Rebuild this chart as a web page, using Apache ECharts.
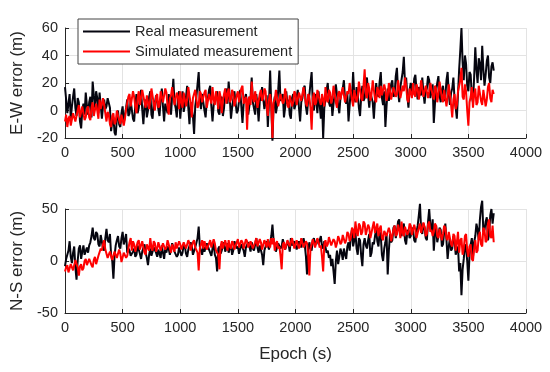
<!DOCTYPE html>
<html>
<head>
<meta charset="utf-8">
<script src="https://cdn.jsdelivr.net/npm/echarts@6/dist/echarts.min.js"></script>
<style>
html,body{margin:0;padding:0;background:#fff;}
#chart{width:550px;height:372px;}
</style>
</head>
<body>
<div id="chart"></div>
<script>
// Sampling step of the epoch axis (s)
const EPOCH_STEP = 10;
const xTicks = [0, 500, 1000, 1500, 2000, 2500, 3000, 3500, 4000];
const ewTicks = [-20, 0, 20, 40, 60];
const nsTicks = [-50, 0, 50];
const seriesNames = ['Real measurement', 'Simulated measurement'];

// E-W error, real measurement (m), one value every 10 s (rows of 200 s)
const ewReal = [
  17, 8, -2, 5, 12, -6, 3, 10, 16, 2, -4, 9, 6, -8, -13, 0, 5, -3, 13, 4,
  -3, 6, 10, -5, 21, 11, 2, 14, 9, -2, 13, 4, -6, 3, 8, 1, 3, 9, 10, 2,
  -15, -8, -5, -16, -18, -6, 0, -10, -12, -2, 3, -9, -8, 2, 8, -4, -2, 7, 6, -6,
  -8, 4, 12, -2, 2, 9, 15, 1, -10, 3, 8, -5, 0, 10, 14, -3, -6, 7, 5, 11,
  10, 1, -4, 8, 16, 3, -8, 5, 6, -2, 12, 4, -3, 11, 23, 6, 2, -5, 9, 14,
  -6, 5, 14, -1, 4, 10, 18, 2, -10, 6, 7, -4, -17, 3, 10, 19, 28, 8, 1, 12,
  12, 0, -5, 7, 9, 15, 18, 3, -8, 4, 6, 11, 14, -1, -3, 8, 10, -4, 2, 13,
  16, 5, 21, 9, -6, 2, 8, 14, 13, -2, 0, 7, 15, 3, -9, 5, 6, 12, 11, -3,
  -4, 10, 24, 6, 5, -3, 12, 4, -8, 7, 9, 17, 16, 1, 2, 11, -12, 6, 29, 3,
  -22, 4, 10, -2, 3, 15, 29, 7, 6, 12, -5, 2, 14, 5, 8, -3, -6, 9, 12, 1,
  4, 10, 15, 2, -8, 6, 9, 16, 18, 3, -3, 8, 11, 20, 28, 5, 0, 12, 7, -2,
  14, 4, -6, 7, -20, 2, 8, 15, 20, 6, 3, 10, -4, 5, 12, 19, 18, 4, -2, 9,
  10, 16, 22, 8, 5, 12, -8, 4, 15, 9, 28, 11, 6, 17, 12, 2, -4, 10, 18, 7,
  9, 18, 24, 11, 2, 13, 14, 6, -6, 8, 20, 12, 10, 21, 28, 9, 4, 14, -12, 3,
  16, 7, 8, 19, 22, 10, 12, 25, 31, 14, 6, 17, 18, 28, 39, 20, 24, 11, 2, 15,
  20, 14, 12, 23, 26, 15, 8, 17, 18, 11, 24, 13, 5, 14, 16, 25, 22, 9, 10, 19,
  -9, 5, 14, 20, 25, 11, 6, 15, 18, 7, 10, 22, 28, 12, 4, 13, 16, 24, 8, 2,
  -6, 12, 30, 44, 60, 35, 22, 40, 34, 18, 14, 28, 26, 10, 6, 24, 46, 30, 20, 38,
  34, 22, 47, 30, 18, 26, 36, 40, 24, 20, 32, 35, 29
];

// E-W error, simulated measurement (m)
const ewSim = [
  -8, -3, -12, -6, -4, -11, -10, -2, -2, -8, -9, 0, 4, -5, -6, 3, 2, -7, -5, 1,
  3, -5, -7, 2, 6, -4, -3, 5, 0, -6, 8, 1, 5, 9, 4, -2, -8, -1, -3, -10,
  -12, -4, -2, -10, -8, 0, 0, -7, -10, -3, -4, -11, -6, 1, 2, 10, 12, 3, 4, 14,
  10, 3, -2, 9, 14, 4, 5, 15, 16, 6, 2, 11, 12, 1, 8, 16, 17, 5, 0, 10,
  12, 2, 4, 14, 15, 6, 7, 16, 13, 3, -3, 9, 11, 17, 16, 4, 5, 13, 10, 1,
  14, 6, 2, 13, 12, 3, 8, 17, 16, 5, -5, 9, 10, 15, 15, 2, 4, 14, 12, 6,
  6, 13, 15, 2, 3, 12, 11, 5, 17, 8, 4, 14, 9, 1, 14, 10, -2, 7, 12, 16,
  5, 12, 16, 6, 8, 15, 12, 3, 2, 11, 14, 6, 7, 16, 18, 5, 4, 10, -14, 8,
  10, 4, 21, 9, 6, 14, 13, 2, 3, 12, 15, 7, 9, 16, 14, 3, -4, 8, 12, 5,
  -20, 6, 8, 15, 14, 3, 4, 12, 12, 5, 7, 16, 16, 4, 2, 11, 11, 3, 6, 14,
  12, 4, 5, 13, 14, 7, 8, 17, 16, 5, 3, 12, 10, 2, -14, 9, 13, 4, 6, 15,
  15, 7, 4, 12, 11, 3, 17, 8, 6, 15, 13, 5, 9, 18, 18, 6, 2, 12, 14, 8,
  8, 17, 16, 6, 5, 14, 12, 20, 19, 8, 3, 15, 14, 6, 10, 21, 22, 9, 7, 18,
  30, 12, 9, 20, 16, 7, 12, 22, 21, 8, 6, 17, 14, 9, 18, 11, 10, 19, 15, 7,
  11, 20, 19, 8, 7, 17, 16, 10, 12, 22, 21, 9, 9, 18, 14, 24, 18, 8, 6, 16,
  15, 9, 20, 12, 10, 19, 16, 8, 13, 22, 21, 10, 11, 18, 17, 9, 14, 20, 19, 11,
  8, 18, 16, 6, 12, 21, 20, 9, 6, 15, 14, 3, 10, 19, 18, 4, -5, 8, 12, 1,
  4, 14, 18, 22, 31, 10, 8, 19, 14, 0, -11, 6, 10, 17, 2, 12, 16, 4, 6, 18,
  18, 7, 4, 15, 14, 3, 8, 17, 20, 9, 6, 15, 12
];

// N-S error, real measurement (m)
const nsReal = [
  -5, 2, 3, 10, 19, 4, -2, 8, 14, -6, -18, 0, 12, 15, 2, 9, 15, 6, 5, 13,
  8, 15, 18, 24, 32, 22, 20, 28, 26, 16, 14, 25, 24, 12, 10, 22, 31, 20, 18, 26,
  6, 0, -17, 5, 15, 20, 24, 14, 12, 22, 28, 16, 20, 26, 8, 12, 10, 5, 4, 9,
  12, 4, 6, 15, 14, 7, 2, 9, 10, 16, 8, 3, -4, 6, 12, 5, 6, 13, 14, 8,
  4, 11, 10, 3, 15, 8, 2, 12, 8, 14, 12, 6, 5, 17, 16, 9, 9, 4, 6, 13,
  12, 5, 8, 16, 14, 7, 4, 11, 10, 18, 15, 6, 6, 13, 12, 22, 33, 14, 10, 6,
  14, 9, 8, 17, 16, 11, 10, 5, 12, 18, 6, 3, -10, 12, 14, 7, 10, 15, 18, 9,
  12, 17, 8, 13, 15, 6, 10, 19, 20, 12, 14, 7, 8, 16, 16, 10, 4, 13, 12, 18,
  14, 9, 18, 12, 10, 16, 22, 13, 8, 15, 16, 6, -4, 10, 14, 19, 20, 11, 12, 24,
  35, 20, 16, 9, 10, 17, 18, 12, 14, 21, 20, 11, 12, 18, 16, 9, 22, 15, 14, 19,
  18, 11, 12, 19, 20, 13, 14, 22, 16, 5, -13, 10, 18, 12, 10, 20, 22, 15, 14, 21,
  16, 20, 24, 14, 12, 19, 18, 8, 10, 3, 6, -5, 2, -10, -22, 0, 10, -3, 4, 12,
  8, 1, 12, 6, 2, 14, 18, 10, 24, 30, 14, 20, 28, 12, 6, 22, 20, 5, -5, 16,
  22, 15, 12, 20, 26, 4, 8, 18, 16, 24, 30, 19, 14, 28, 24, 6, 0, 12, 18, 26,
  -13, 10, 26, 18, 20, 32, 34, 22, 28, 38, 40, 26, 24, 32, 36, 20, 16, 28, 30, 22,
  24, 32, 30, 20, 18, 28, 34, 44, 55, 30, 26, 36, 32, 22, 20, 38, 50, 34, 28, 40,
  10, 26, 34, 18, 24, 32, 30, 14, 16, 28, 36, 20, 2, 14, 22, 10, 12, 24, 20, 6,
  5, 14, -10, -2, -33, -8, 2, 16, 12, 0, -19, 6, 16, 22, 4, 18, 24, 36, 30, 20,
  40, 52, 58, 28, 30, 38, 42, 20, 26, 44, 50, 36, 46
];

// N-S error, simulated measurement (m)
const nsSim = [
  -10, -6, -4, -11, -12, -3, -2, -9, -8, 1, 0, -6, -14, -5, -3, -9, -7, 0, 2, -4,
  -3, 2, 3, -4, -6, 1, 4, -3, -2, 5, 6, 12, 10, 16, 20, 11, 12, 3, 4, 9,
  8, 1, 2, 9, 10, 3, 4, 11, 7, -1, 0, 8, 9, 3, 5, 12, 18, 22, 10, 19,
  16, 9, 8, 18, 20, 11, 12, 19, 18, 8, 6, 16, 15, 10, 22, 13, 10, 19, 17, 9,
  12, 18, 19, 10, 9, 17, 16, 11, 13, 20, 21, 12, 8, 16, 15, 9, 18, 12, 11, 19,
  16, 11, 10, 18, 19, 12, 13, 20, 17, 10, 9, 18, 20, 13, 14, 8, -9, 12, 16, 20,
  12, 19, 18, 11, 10, 17, 20, 13, 14, 21, 17, 10, 11, 6, -8, 14, 19, 12, 13, 20,
  15, 10, 20, 14, 12, 19, 17, 11, 10, 18, 21, 13, 14, 20, 18, 12, 12, 21, 19, 13,
  14, 19, 20, 12, 11, 18, 22, 14, 15, 21, 18, 11, 12, 20, 17, 13, 21, 15, 13, 22,
  16, 22, 10, 17, 19, 12, 14, 5, -8, 16, 18, 11, 12, 20, 20, 14, 15, 22, 17, 12,
  13, 20, 19, 12, 15, 22, 21, 13, 12, 19, 17, 6, -14, 12, 16, 21, 20, 13, 14, 22,
  18, 13, 15, 4, -10, 16, 20, 14, 16, 23, 22, 15, 14, 21, 19, 13, 17, 24, 21, 16,
  18, 25, 24, 17, 20, 28, 26, 19, 22, 32, 30, 22, 38, 28, 24, 36, 34, 25, 28, 38,
  36, 25, 26, 35, 32, 22, 22, 33, 38, 27, 28, 36, 24, 31, 34, 22, 20, 29, 30, 24,
  24, 32, 28, 19, 20, 30, 34, 24, 26, 35, 30, 22, 38, 27, 24, 33, 32, 25, 28, 36,
  34, 25, 26, 35, 30, 22, 22, 32, 36, 27, 28, 37, 33, 24, 26, 35, 38, 28, 30, 24,
  28, 36, 34, 24, 22, 31, 30, 20, 26, 34, 32, 22, 20, 28, 28, 16, 14, 26, 24, 10,
  18, 28, 8, 20, 22, 6, 12, 24, 26, 10, 4, 14, 16, 2, 0, 12, 20, 8, 10, 24,
  28, 16, 14, 32, 30, 18, 20, 36, 40, 24, 22, 34, 18
];

function pairs(values) {
  return values.map((v, i) => [i * EPOCH_STEP, v]);
}

const FONT = 'Liberation Sans, Arial, sans-serif';
const TXT = '#262626';
const GRID = '#e3e3e3';

function xAxis(gridIndex, withName) {
  const ax = {
    type: 'value', gridIndex: gridIndex,
    min: xTicks[0], max: xTicks[xTicks.length - 1], interval: xTicks[1] - xTicks[0],
    axisLine: {show: true, onZero: false, lineStyle: {color: TXT, width: 1}},
    axisTick: {show: true, inside: true, length: 4, lineStyle: {color: TXT}},
    axisLabel: {color: TXT, fontFamily: FONT, fontSize: 14.5, margin: 7, formatter: v => String(v)},
    splitLine: {show: true, lineStyle: {color: GRID, width: 1}}
  };
  if (withName) {
    ax.name = 'Epoch (s)';
    ax.nameLocation = 'middle';
    ax.nameGap = 33;
    ax.nameTextStyle = {color: TXT, fontFamily: FONT, fontSize: 17};
  }
  return ax;
}

function yAxis(gridIndex, ticks, name) {
  return {
    type: 'value', gridIndex: gridIndex,
    min: ticks[0], max: ticks[ticks.length - 1], interval: ticks[1] - ticks[0],
    name: name, nameLocation: 'middle', nameGap: 38,
    nameTextStyle: {color: TXT, fontFamily: FONT, fontSize: 17},
    axisLine: {show: true, onZero: false, lineStyle: {color: TXT, width: 1}},
    axisTick: {show: true, inside: true, length: 4, lineStyle: {color: TXT}},
    axisLabel: {color: TXT, fontFamily: FONT, fontSize: 14.5, margin: 7, formatter: v => String(v)},
    splitLine: {show: true, lineStyle: {color: GRID, width: 1}}
  };
}

function line(name, data, color, xi, z) {
  return {
    name: name, type: 'line', xAxisIndex: xi, yAxisIndex: xi,
    data: data, symbol: 'none', showSymbol: false, z: z, clip: false,
    lineStyle: {color: color, width: 2},
    itemStyle: {color: color},
    emphasis: {disabled: true}
  };
}

const chart = echarts.init(document.getElementById('chart'), null, {renderer: 'canvas'});
chart.setOption({
  animation: false,
  backgroundColor: '#ffffff',
  grid: [
    {left: 65, right: 24, top: 28, height: 110},
    {left: 65, right: 24, top: 209, height: 104}
  ],
  xAxis: [xAxis(0, false), xAxis(1, true)],
  yAxis: [yAxis(0, ewTicks, 'E-W error (m)'), yAxis(1, nsTicks, 'N-S error (m)')],
  legend: {
    orient: 'vertical', left: 78, top: 19,
    padding: [5, 6, 5, 5], itemGap: 5, itemWidth: 47, itemHeight: 14,
    icon: 'path://M0,0 L47,0 L47,2 L0,2 Z',
    backgroundColor: '#ffffff', borderColor: '#444444', borderWidth: 1,
    textStyle: {color: TXT, fontFamily: FONT, fontSize: 14.5},
    data: seriesNames
  },
  series: [
    line(seriesNames[0], pairs(ewReal), '#05050f', 0, 2),
    line(seriesNames[1], pairs(ewSim), '#ff0000', 0, 3),
    line(seriesNames[0], pairs(nsReal), '#05050f', 1, 2),
    line(seriesNames[1], pairs(nsSim), '#ff0000', 1, 3)
  ]
});
</script>
</body>
</html>
